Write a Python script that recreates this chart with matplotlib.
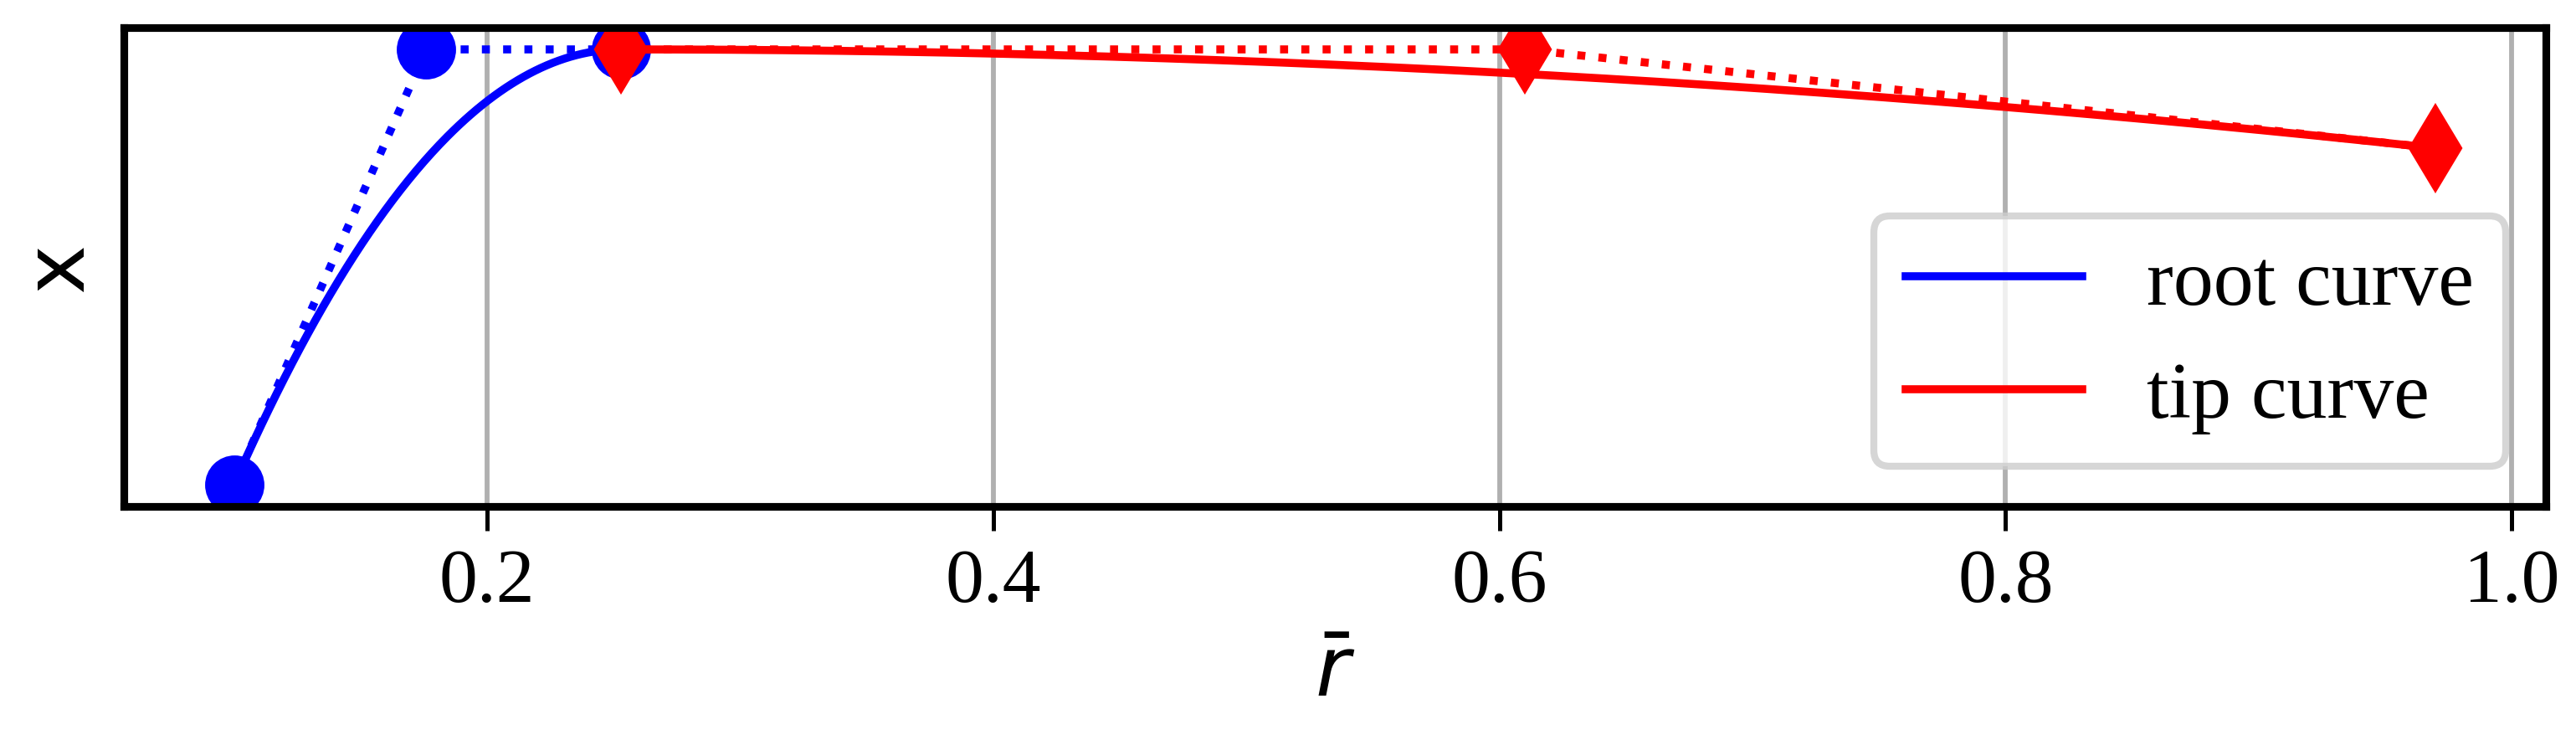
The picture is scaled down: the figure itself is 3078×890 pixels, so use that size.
import matplotlib as mpl
mpl.use('Agg')

import numpy as np
import matplotlib.pyplot as plt
from matplotlib.bezier import BezierSegment

# control points of the two quadratic bezier curves
root_r = [0.1, 0.176, 0.253]
root_x = [0.0, 1.0, 1.0]
tip_r = [0.253, 0.61, 0.97]
tip_x = [1.0, 1.0, 0.773]

xticks = [0.2, 0.4, 0.6, 0.8, 1.0]


def bezier_curve(r, x, n=200):
    """ evaluate a bezier curve from its control points """
    seg = BezierSegment(np.column_stack([r, x]))
    pts = seg(np.linspace(0, 1, n))
    return pts[:, 0], pts[:, 1]


plt.rc('font', family='Liberation Serif')
mpl.rcParams['mathtext.fontset'] = 'dejavusans'

fig = plt.figure(figsize=(10.26, 2.9667), dpi=300)
ax = fig.add_axes([0.0481, 0.3202, 0.9402, 0.6427])

lw = 2.3

ax.plot(root_r, root_x, linestyle=':', color='blue', lw=lw,
        marker='o', markersize=16)
rr, rx = bezier_curve(root_r, root_x)
ax.plot(rr, rx, color='blue', lw=lw, label='root curve')

ax.plot(tip_r, tip_x, linestyle=':', color='red', lw=lw,
        marker='d', markersize=17)
tr, tx = bezier_curve(tip_r, tip_x)
ax.plot(tr, tx, color='red', lw=lw, label='tip curve')

ax.set_xticks(xticks)
ax.set_xticklabels(['%.1f' % t for t in xticks])
ax.set_yticks([])
ax.tick_params(axis='x', labelsize=22, length=7, width=1.2, pad=5)
ax.grid(axis='x', color='#b0b0b0', lw=1.4)

for s in ax.spines.values():
    s.set_linewidth(2.2)

ax.set_xlabel(r'$\bar{r}$', fontsize=24, labelpad=6)
ax.set_ylabel('x', fontsize=24, family='DejaVu Sans', labelpad=7)

leg = ax.legend(loc='lower right', fontsize=23, handlelength=2.2)
leg.get_frame().set_linewidth(2)

plt.savefig('out.png', dpi=300)
